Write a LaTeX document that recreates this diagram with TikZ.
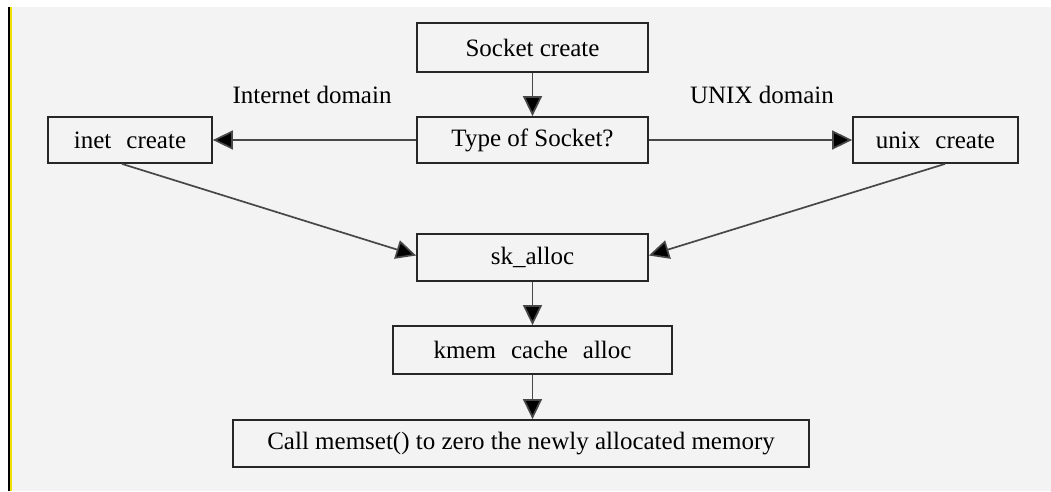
\documentclass[tikz,border=0pt]{standalone}
\usepackage{fontspec}
\setmainfont{Liberation Serif}
\usetikzlibrary{arrows.meta}
\definecolor{bgray}{HTML}{F3F3F3}
\definecolor{lineg}{HTML}{474747}
\definecolor{ylw}{HTML}{F0E000}
\tikzset{
  box/.style={draw=black!85, line width=1.8pt, fill=bgray, inner sep=0pt,
    font=\fontsize{25}{28}\selectfont},
  lbl/.style={inner sep=0pt, font=\fontsize{25}{28}\selectfont},
  arr/.style={draw=lineg, line width=1.7pt, -{Triangle[length=20pt,width=19pt,fill=black]}}
}
\newcommand{\gp}{\hspace{0.6em}}
\begin{document}
\begin{tikzpicture}[x=1pt,y=-1pt]
\useasboundingbox (0,0) rectangle (1051,491);
\fill[white] (0,0) rectangle (1051,491);
\fill[bgray] (11,7) rectangle (1051,491);
\fill[black] (8,7) rectangle (10,491);
\fill[ylw] (10,7) rectangle (12,491);

\node[box, minimum width=231pt, minimum height=49pt] (sc) at (532.5,47.5) {Socket create};
\node[box, minimum width=231pt, minimum height=46pt] (type) at (532.5,140) {Type of Socket?};
\node[box, minimum width=164pt, minimum height=46pt] (inet) at (130,140) {inet\gp create};
\node[box, minimum width=165pt, minimum height=46pt] (unix) at (935.5,140) {unix\gp create};
\node[box, minimum width=231pt, minimum height=47pt] (sk) at (532.5,257.5) {sk\_alloc};
\node[box, minimum width=279pt, minimum height=48pt] (kmem) at (532.5,350) {kmem\gp cache\gp alloc};
\node[box, minimum width=576pt, minimum height=47pt] (call) at (521,443.5) {Call memset() to zero the newly allocated memory};

\node[lbl] (ild) at (312,95) {Internet domain};
\node[lbl] (uld) at (762,95) {UNIX domain};

\draw[arr] (sc) -- (type);
\draw[arr] (type) -- (inet);
\draw[arr] (type) -- (unix);
\draw[arr] ([xshift=-8pt]inet.south) -- ([yshift=2pt]sk.west);
\draw[arr] ([xshift=9.5pt]unix.south) -- ([yshift=2pt]sk.east);
\draw[arr] (sk) -- (kmem);
\draw[arr] (kmem.south) -- (kmem.south |- call.north);
\end{tikzpicture}
\end{document}
